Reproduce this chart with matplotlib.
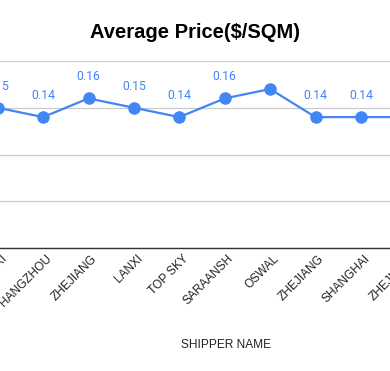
import matplotlib
matplotlib.use("Agg")
import matplotlib.pyplot as plt
import matplotlib.transforms as mtransforms

categories = ["LANXI", "HANGZHOU", "ZHEJIANG", "LANXI", "TOP SKY", "SARAANSH",
              "OSWAL", "ZHEJIANG", "SHANGHAI", "ZHEJIANG"]
prices = [0.15, 0.14, 0.16, 0.15, 0.14, 0.16, 0.17, 0.14, 0.14, 0.14]
shown_labels = [True, True, True, True, True, True, False, True, True, True]
title = "Average Price($/SQM)"
xlabel = "SHIPPER NAME"
yticks = [0, 0.05, 0.10, 0.15, 0.20]

W, H = 390, 371
fig = plt.figure(figsize=(W / 100, H / 100), dpi=100)
plt.rcParams['font.family'] = ['Liberation Sans', 'DejaVu Sans']

# plot area (partially outside the visible figure, like the cropped reference)
x0_px, step_px = -2.3, 45.4
left_px = x0_px - 0.5 * step_px
width_px = step_px * len(categories)
top_px, bottom_px = 61, 248
ax = fig.add_axes([left_px / W, (H - bottom_px) / H, width_px / W, (bottom_px - top_px) / H])
ax.set_xlim(-0.5, len(categories) - 0.5)
ax.set_ylim(0, 0.2)

blue = "#4285F4"
xs = list(range(len(categories)))
ax.plot(xs, prices, color=blue, lw=1.6, marker="o", markersize=8, zorder=3, clip_on=False)

for x, v, show in zip(xs, prices, shown_labels):
    if show:
        ax.annotate(f"{v:.2f}", xy=(x, v), xytext=(0, 15.5), textcoords="offset points",
                    ha="center", va="center", color=blue, fontsize=8.8,
                    family=["Roboto", "DejaVu Sans"], zorder=2,
                    arrowprops=dict(arrowstyle="-", color="#d9d9d9", lw=0.8,
                                    shrinkA=5, shrinkB=4))

ax.set_yticks(yticks)
ax.yaxis.grid(True, color="#cccccc", lw=0.9)
ax.set_axisbelow(True)
ax.tick_params(axis="y", length=0, labelleft=False)
for s in ["left", "right", "top"]:
    ax.spines[s].set_visible(False)
ax.spines["bottom"].set_color("#333333")
ax.spines["bottom"].set_linewidth(1.0)

ax.set_xticks(xs)
ax.set_xticklabels(categories, rotation=45, ha="right", va="center",
                   rotation_mode="anchor", fontsize=8.6, color="#222222")
ax.tick_params(axis="x", length=0, pad=6.5)
offset = mtransforms.ScaledTranslation(7 / 100, 0, fig.dpi_scale_trans)
for lab in ax.get_xticklabels():
    lab.set_transform(lab.get_transform() + offset)

fig.text(195 / W, 1 - 33 / H, title, ha="center", va="center",
         fontsize=14.5, fontweight="bold", color="#000000")
fig.text(226 / W, 1 - 345 / H, xlabel, ha="center", va="center",
         fontsize=8.6, color="#222222")

fig.savefig("out.png", dpi=100)
